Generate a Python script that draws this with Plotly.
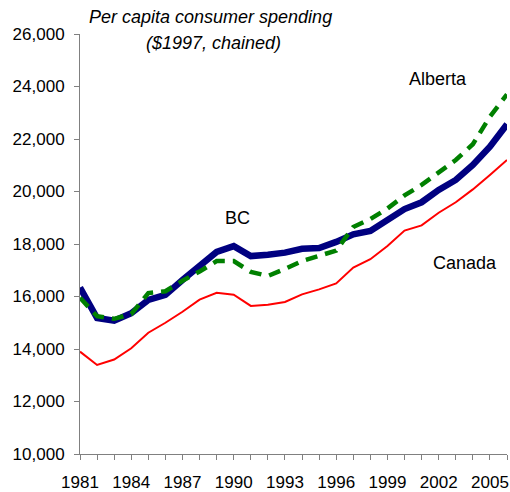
import plotly.graph_objects as go

years = list(range(1981, 2007))
canada = [13900, 13390, 13600, 14030, 14620, 15000, 15420, 15880, 16140, 16070,
          15640, 15690, 15790, 16080, 16270, 16500, 17100, 17420, 17920, 18510,
          18710, 19190, 19590, 20080, 20630, 21200]
bc = [16340, 15180, 15080, 15360, 15870, 16060, 16630, 17130, 17700, 17920,
      17540, 17590, 17670, 17820, 17850, 18080, 18370, 18500, 18910, 19330,
      19590, 20060, 20440, 21010, 21710, 22560]
alberta = [15950, 15250, 15150, 15330, 16130, 16200, 16600, 16950, 17350, 17350,
           16940, 16780, 17050, 17350, 17550, 17750, 18650, 18950, 19350, 19850,
           20250, 20750, 21200, 21800, 22850, 23700]
tick_years = list(range(1981, 2007))
tick_labels = [str(y) if (y - 1981) % 3 == 0 else "" for y in tick_years]
y_ticks = list(range(10000, 26001, 2000))

font = "Liberation Sans, Arial, sans-serif"

fig = go.Figure()
fig.add_trace(go.Scatter(x=years, y=canada, mode="lines", name="Canada",
                         line=dict(color="#FF0000", width=2)))
fig.add_trace(go.Scatter(x=years, y=bc, mode="lines", name="BC",
                         line=dict(color="#000080", width=6.5)))
fig.add_trace(go.Scatter(x=years, y=alberta, mode="lines", name="Alberta",
                         line=dict(color="#008000", width=4.5, dash="12px,8px")))

annots = [
    dict(x=1990.2, y=18990, text="BC"),
    dict(x=2001.96, y=24290, text="Alberta"),
    dict(x=2003.54, y=17280, text="Canada"),
]
for a in annots:
    fig.add_annotation(x=a["x"], y=a["y"], xref="x", yref="y", text=a["text"],
                       showarrow=False, xanchor="center", yanchor="middle",
                       font=dict(family=font, size=18, color="#000000"))

fig.add_annotation(x=0.305, y=1.0405, xref="paper", yref="paper",
                   text="<i>Per capita consumer spending</i>", showarrow=False,
                   xanchor="center", yanchor="middle",
                   font=dict(family=font, size=18, color="#000000"))
fig.add_annotation(x=0.312, y=0.9786, xref="paper", yref="paper",
                   text="<i>($1997, chained)</i>", showarrow=False,
                   xanchor="center", yanchor="middle",
                   font=dict(family=font, size=18, color="#000000"))

fig.update_layout(
    width=510, height=492,
    margin=dict(l=80, r=3, t=34, b=38),
    paper_bgcolor="white", plot_bgcolor="white",
    showlegend=False,
    font=dict(family=font, size=17, color="#000000"),
    xaxis=dict(range=[1981, 2006], tickvals=tick_years, ticktext=tick_labels,
               ticks="outside", ticklen=5, tickcolor="#808080",
               showline=True, linecolor="#808080", linewidth=1,
               showgrid=False, zeroline=False, ticklabelstandoff=8,
               automargin=False),
    yaxis=dict(range=[10000, 26000], tickvals=y_ticks, tickformat=",",
               ticks="outside", ticklen=5, tickcolor="#808080",
               showline=True, linecolor="#808080", linewidth=1,
               showgrid=False, zeroline=False, ticklabelstandoff=6,
               automargin=False),
)

fig.write_html("out.html", config={"displayModeBar": False},
               post_script="document.body.style.margin='0px';document.body.style.padding='0px';")
